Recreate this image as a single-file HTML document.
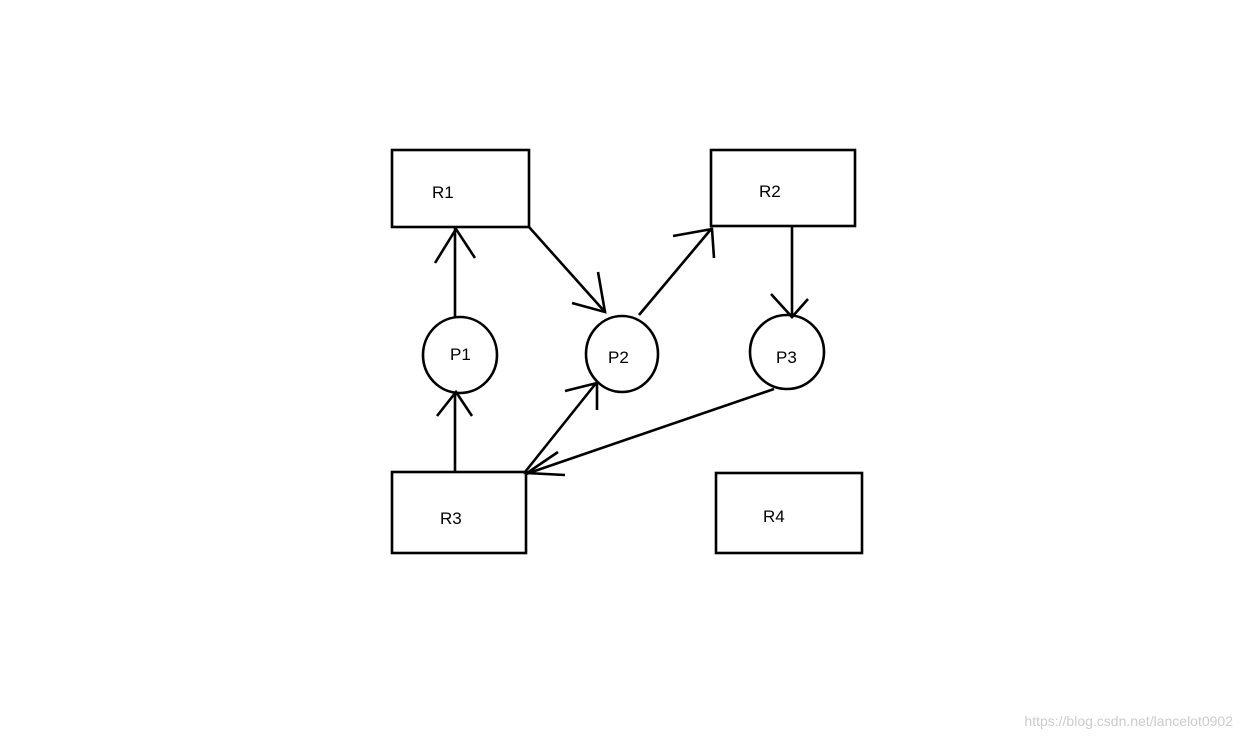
<!DOCTYPE html>
<html><head><style>body{margin:0;background:#fff}</style></head><body>
<svg width="1242" height="739" xmlns="http://www.w3.org/2000/svg" style="display:block">
<g fill="none" stroke="#000" stroke-width="2.6">
<rect x="392" y="150" width="137" height="77"/>
<rect x="711" y="150" width="144" height="76"/>
<rect x="392" y="472" width="134" height="81"/>
<rect x="716" y="473" width="146" height="80"/>
<ellipse cx="460" cy="355" rx="37" ry="38"/>
<ellipse cx="622" cy="354" rx="36" ry="38"/>
<ellipse cx="787" cy="352" rx="37" ry="37"/>
<path d="M455 317V228M435 263L456 229L475 258"/>
<path d="M529 227L605 312M598 272L605 312L572 303"/>
<path d="M639 315L712 228M673 236L712 229L714 258"/>
<path d="M792 226V318M771 294L792 317L808 299"/>
<path d="M455 472V392M437 416L456 392L472 416"/>
<path d="M525 472L597 382M565 391L597 383L597 410"/>
<path d="M774 389L526 474M558 452L527 473L565 475"/>
</g>
<g font-family="Liberation Sans, sans-serif" font-size="17" fill="#000">
<text x="432" y="198">R1</text>
<text x="759" y="197">R2</text>
<text x="440" y="524">R3</text>
<text x="763" y="522">R4</text>
<text x="450" y="360">P1</text>
<text x="608" y="363">P2</text>
<text x="776" y="363">P3</text>
</g>
<text x="1233" y="726" text-anchor="end" font-family="Liberation Sans, sans-serif" font-size="14" fill="#ccc">https://blog.csdn.net/lancelot0902</text>
</svg>
</body></html>
